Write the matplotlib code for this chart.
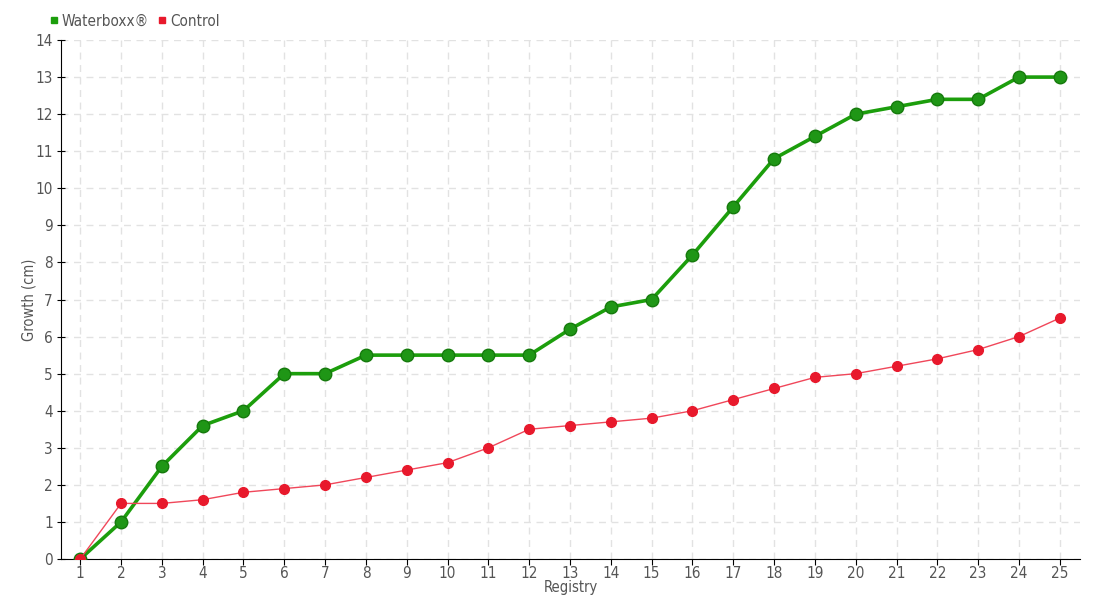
import matplotlib
matplotlib.use("Agg")
import matplotlib.pyplot as plt
from matplotlib.lines import Line2D

plt.rcParams['font.family'] = ['DejaVu Sans']
plt.rcParams['font.stretch'] = 'condensed'
plt.rcParams['font.weight'] = 'light'

registry = list(range(1, 26))
waterboxx = [0, 1, 2.5, 3.6, 4, 5, 5, 5.5, 5.5, 5.5, 5.5, 5.5, 6.2, 6.8, 7,
             8.2, 9.5, 10.8, 11.4, 12, 12.2, 12.4, 12.4, 13, 13]
control = [0, 1.5, 1.5, 1.6, 1.8, 1.9, 2.0, 2.2, 2.4, 2.6, 3.0, 3.5, 3.6, 3.7,
           3.8, 4.0, 4.3, 4.6, 4.9, 5.0, 5.2, 5.4, 5.65, 6.0, 6.5]

green = "#1c9e0c"
red = "#e8192c"
txt = "#555555"

fig = plt.figure(figsize=(11, 6), dpi=100)
ax = fig.add_axes([0.0555, 0.0683, 0.9265, 0.865])

ax.plot(registry, waterboxx, color=green, lw=2.6, marker="o", ms=9,
        mfc="#1f9616", mec="#157a0c", mew=1, zorder=3)
ax.plot(registry, control, color="#f0475a", lw=1, marker="o", ms=7,
        mfc=red, mec=red, zorder=4)

ax.set_xlim(0.53, 25.5)
ax.set_ylim(0, 14)
ax.set_xticks(registry)
ax.set_yticks(range(0, 15))
ax.grid(True, color="#e2e2e2", ls=(0, (5, 4)), lw=1)
ax.set_axisbelow(True)
for s in ["top", "right"]:
    ax.spines[s].set_visible(False)
ax.tick_params(axis="y", direction="inout", length=6, colors="black",
               labelcolor=txt, labelsize=11, pad=3)
ax.tick_params(axis="x", direction="out", length=4, colors="black",
               labelcolor=txt, labelsize=11, pad=1)
ax.set_xlabel("Registry", color=txt, fontsize=10.5, labelpad=-1)
ax.set_ylabel("Growth (cm)", color=txt, fontsize=10.5, labelpad=-1)

handles = [Line2D([], [], ls="", marker="s", ms=5, color=green),
           Line2D([], [], ls="", marker="s", ms=5, color=red)]
fig.legend(handles, ["Waterboxx®", "Control"], loc="upper left",
           bbox_to_anchor=(0.032, 1.0), ncol=2, frameon=False,
           handlelength=0.6, handletextpad=0.2, columnspacing=0.6,
           labelcolor=txt, fontsize=11)

fig.savefig("out.png", dpi=100)
